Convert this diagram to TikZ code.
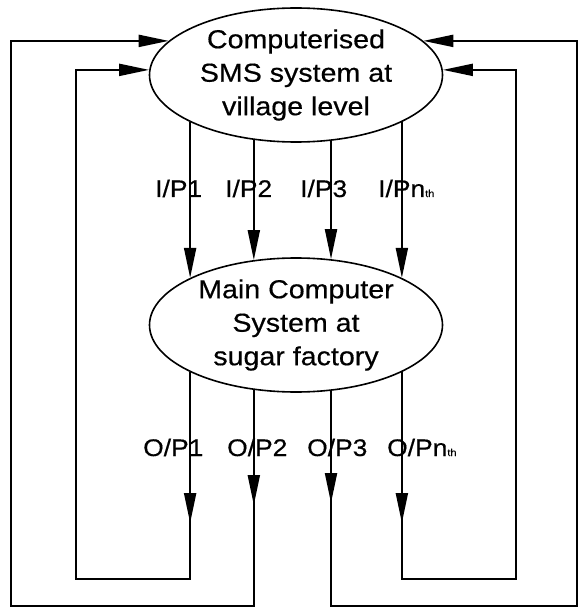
\documentclass[tikz,border=0pt]{standalone}
\usepackage{fontspec}
\setmainfont{Liberation Sans}[FakeStretch=1.1,FakeBold=0.5]
\usetikzlibrary{arrows.meta,shapes.geometric}
\begin{document}
\begin{tikzpicture}[x=1pt,y=-1pt,
  sys/.style={draw,ellipse,line width=1.6pt,minimum width=293pt,minimum height=134pt,
    inner sep=0pt,align=center,font=\fontsize{26}{33.5}\selectfont},
  conn/.style={line width=2pt},
  tip/.style={conn,-{Triangle[length=30pt,width=12pt]}},
  lab/.style={anchor=base west,inner sep=0pt,font=\fontsize{24}{24}\selectfont}]
\useasboundingbox (0,0) rectangle (578,609);
\node[sys] (top) at (296,75) {Computerised\\SMS system at\\village level};
\node[sys] (main) at (296,325) {Main Computer\\System at\\sugar factory};
% inputs
\draw[tip] (top.204) -- (main.156);
\draw[tip] (top.237) -- (main.123);
\draw[tip] (top.298) -- (main.62);
\draw[tip] (top.336) -- (main.24);
% outputs
\coordinate (a1) at (main.204 |- 0,523);
\coordinate (a2) at (main.237 |- 0,505);
\coordinate (a3) at (main.298 |- 0,503);
\coordinate (a4) at (main.336 |- 0,523);
\coordinate (b1) at (76,579);
\coordinate (b2) at (11,606);
\coordinate (b3) at (577,606);
\coordinate (b4) at (516,579);
\draw[tip] (main.204) |- (b1) |- (top.178);
\draw[tip] (main.237) |- (b2) |- (top.165);
\draw[tip] (main.298) |- (b3) |- (top.15);
\draw[tip] (main.336) |- (b4) |- (top.2);
\draw[tip] (main.204) -- (a1);
\draw[tip] (main.237) -- (a2);
\draw[tip] (main.298) -- (a3);
\draw[tip] (main.336) -- (a4);
% labels
\node[lab] (ip1) at (155,197) {I/P1};
\node[lab] (ip2) at (225,197) {I/P2};
\node[lab] (ip3) at (300,197) {I/P3};
\node[lab] (ipn) at (378,197) {I/Pn{\fontsize{10}{10}\selectfont th}};
\node[lab] (op1) at (143,456) {O/P1};
\node[lab] (op2) at (227,456) {O/P2};
\node[lab] (op3) at (307,456) {O/P3};
\node[lab] (opn) at (387,456) {O/Pn{\fontsize{10}{10}\selectfont th}};
\end{tikzpicture}
\end{document}
